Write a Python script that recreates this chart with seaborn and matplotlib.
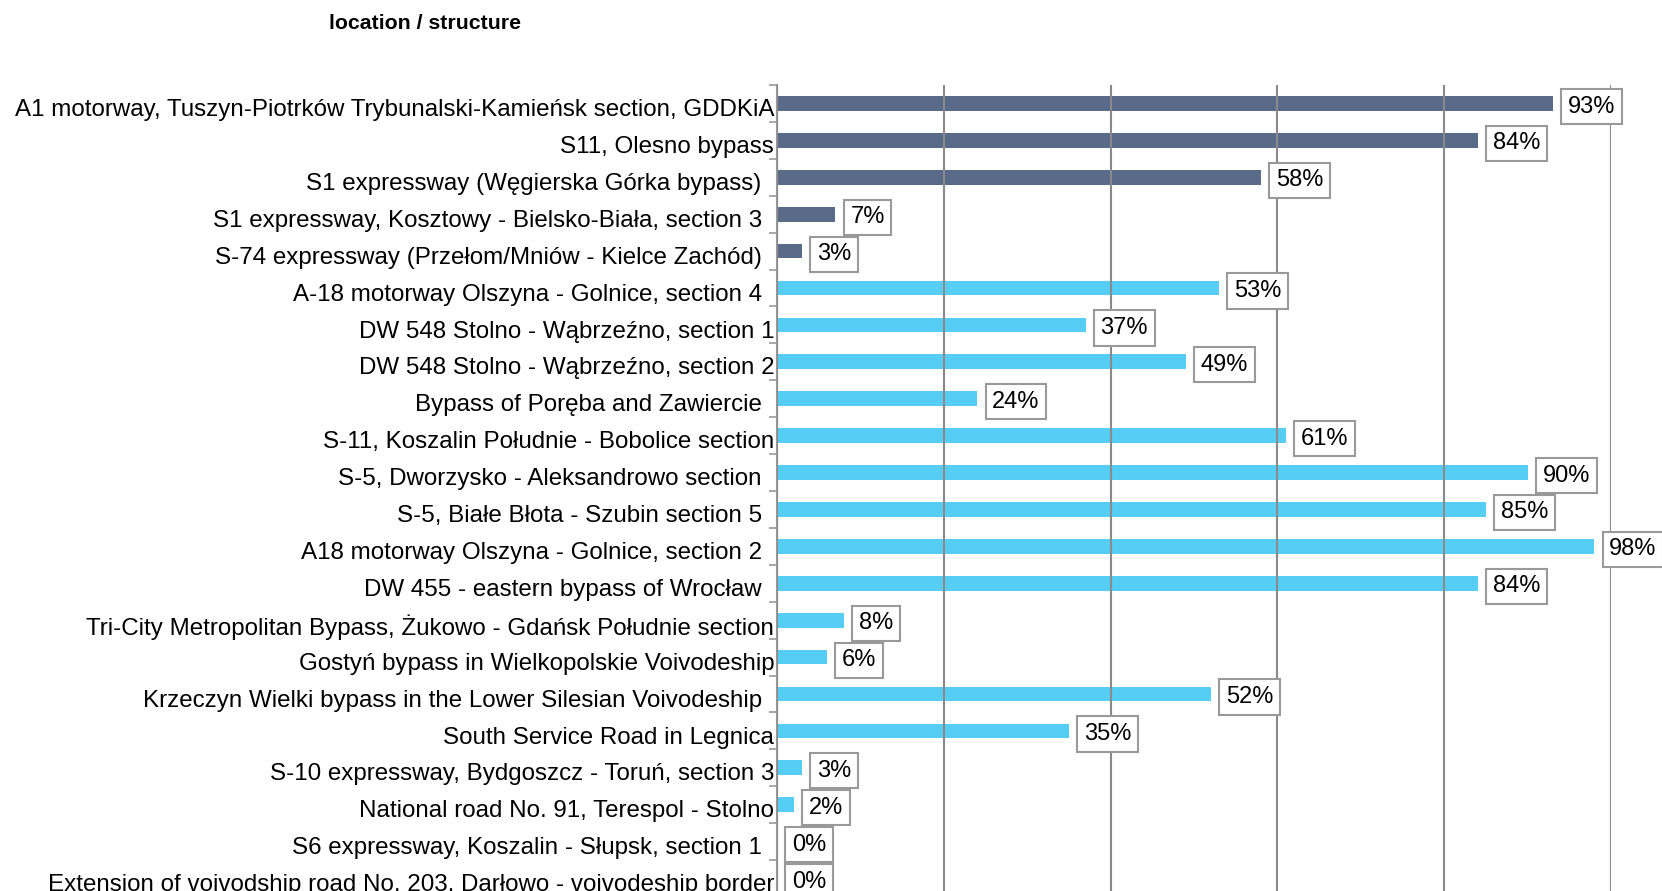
import matplotlib
matplotlib.use("Agg")
import matplotlib.pyplot as plt
import matplotlib.transforms as mtransforms
import seaborn as sns
import pandas as pd
import numpy as np

labels = [
    "A1 motorway, Tuszyn-Piotrków Trybunalski-Kamieńsk section, GDDKiA",
    "S11, Olesno bypass",
    "S1 expressway (Węgierska Górka bypass)",
    "S1 expressway, Kosztowy - Bielsko-Biała, section 3",
    "S-74 expressway (Przełom/Mniów - Kielce Zachód)",
    "A-18 motorway Olszyna - Golnice, section 4",
    "DW 548 Stolno - Wąbrzeźno, section 1",
    "DW 548 Stolno - Wąbrzeźno, section 2",
    "Bypass of Poręba and Zawiercie",
    "S-11, Koszalin Południe - Bobolice section",
    "S-5, Dworzysko - Aleksandrowo section",
    "S-5, Białe Błota - Szubin section 5",
    "A18 motorway Olszyna - Golnice, section 2",
    "DW 455 - eastern bypass of Wrocław",
    "Tri-City Metropolitan Bypass, Żukowo - Gdańsk Południe section",
    "Gostyń bypass in Wielkopolskie Voivodeship",
    "Krzeczyn Wielki bypass in the Lower Silesian Voivodeship",
    "South Service Road in Legnica",
    "S-10 expressway, Bydgoszcz - Toruń, section 3",
    "National road No. 91, Terespol - Stolno",
    "S6 expressway, Koszalin - Słupsk, section 1",
    "Extension of voivodship road No. 203, Darłowo - voivodeship border",
]
values = [93, 84, 58, 7, 3, 53, 37, 49, 24, 61, 90, 85, 98, 84, 8, 6, 52, 35, 3, 2, 0, 0]
groups = ["GDDKiA"] * 5 + ["other"] * 17
# label rows that sit tight against the axis (the rest have a wider gap)
tight_rows = [0, 1, 6, 7, 9, 14, 15, 17, 18, 19, 21]

df = pd.DataFrame({"label": labels, "value": values, "group": groups})

plt.rcParams["font.family"] = ["Liberation Sans", "DejaVu Sans"]
fig = plt.figure(figsize=(16.62, 8.91), dpi=100)
ax = fig.add_axes([0.4675, -0.0067, 0.9693 - 0.4675, 0.9046 + 0.0067])

sns.barplot(data=df, x="value", y="label", hue="group",
            palette={"GDDKiA": "#5a6a89", "other": "#55cdf5"}, saturation=1,
            dodge=False, width=0.4, legend=False, ax=ax, zorder=1)

ax.set_xlim(0, 100)
ax.set_ylim(len(labels) - 0.5, -0.5)
ax.set_xticks(np.arange(0, 101, 20))
ax.xaxis.grid(True, color="#8a8a8a", linewidth=1.5, zorder=3)
ax.set_axisbelow(False)
ax.tick_params(axis="x", bottom=False, labelbottom=False)
ax.tick_params(axis="y", which="major", length=0, labelsize=17.4)
ax.set_yticks(np.arange(len(labels) + 1) - 0.5, minor=True)
ax.tick_params(axis="y", which="minor", length=6, width=1.2, color="#999999")
for i, t in enumerate(ax.yaxis.get_major_ticks()):
    t.set_pad(2 if i in tight_rows else 11)
shift = mtransforms.ScaledTranslation(0, -3 / 72, fig.dpi_scale_trans)
for lab in ax.get_yticklabels():
    lab.set_transform(lab.get_transform() + shift)
for s in ["top", "right", "bottom"]:
    ax.spines[s].set_visible(False)
ax.spines["left"].set_color("#999999")
ax.spines["left"].set_linewidth(1.5)
ax.set_xlabel("")
ax.set_ylabel("")

# value boxes, nudged down a touch like the original
box_shift = mtransforms.ScaledTranslation(0, -2.2 / 72, fig.dpi_scale_trans)
for i, v in enumerate(values):
    ax.text(v + 1.8, i, f"{v}%", va="center", ha="left", fontsize=17,
            transform=ax.transData + box_shift,
            bbox=dict(boxstyle="square,pad=0.28", fc="white", ec="#999999", lw=1.5),
            zorder=5, clip_on=False)

fig.text(0.198, 0.974, "location / structure", fontsize=15.3, fontweight="bold",
         ha="left", va="center")

fig.savefig("out.png", dpi=100)
